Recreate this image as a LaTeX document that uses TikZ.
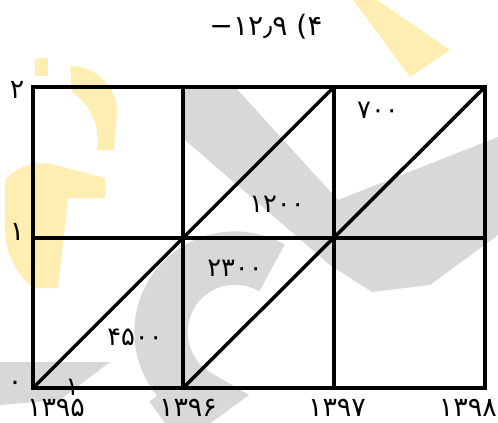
\documentclass[tikz,border=0pt]{standalone}
\usepackage{fontspec}
\newfontfamily\fa{DejaVu Sans}
\usetikzlibrary{positioning}

\definecolor{wmgray}{RGB}{216,216,216}
\definecolor{wmyellow}{RGB}{255,238,178}

\begin{document}
\begin{tikzpicture}[
            x=0.03cm, y=-0.03cm,
            frame/.style={line width=3pt},
            midline/.style={line width=3.6pt},
            diag/.style={line width=3pt},
            lab/.style={font=\fa\fontsize{23}{25}\selectfont,inner sep=0pt},
            cell/.style={font=\fa\fontsize{22}{24}\selectfont,inner sep=0pt},
            wmg/.style={fill=wmgray,draw=none},
            wmy/.style={fill=wmyellow,draw=none}
        ]
        \useasboundingbox (0,0) rectangle (498,423);
        % watermark
        \fill[wmg] (185,87) -- (235,87) -- (338,200) -- (498,137) -- (498,235)
            -- (430,285) -- (372,292) -- (330,265) -- (185,140) -- cycle;
        \draw[wmgray,line width=1.6cm] (272,268) arc[start angle=300,end angle=118,radius=74]
            -- (165,423);
        \fill[wmg] (0,362) -- (110,362) -- (60,400) -- (0,405) -- cycle;
        \fill[wmy] (353,0) -- (377,0) -- (450,50) -- (410,77) -- cycle;
        \fill[wmy] (35,58) rectangle (48,76);
        \fill[wmy] (70,66) to[bend left=45] (117,112) -- (114,150) -- (97,150) to[bend right=30] (72,92) -- cycle;
        \fill[wmy] (5,180) to[bend left=30] (55,165) -- (105,178) -- (105,198) -- (68,198)
            -- (58,288) -- (33,288) to[bend left=20] (5,235) -- cycle;
        % grid points
        \coordinate (a0) at (33,388);  \coordinate (b0) at (183,388);
        \coordinate (c0) at (334,388); \coordinate (d0) at (485,388);
        \coordinate (a1) at (33,238);  \coordinate (d1) at (485,238);
        \coordinate (a2) at (33,87);   \coordinate (b2) at (183,87);
        \coordinate (c2) at (334,87);  \coordinate (d2) at (485,87);
        % grid
        \draw[frame] (a0) rectangle (d2);
        \draw[frame] (b0) -- (b2);
        \draw[frame] (c0) -- (c2);
        \draw[midline] (a1) -- (d1);
        % diagonals
        \draw[diag] (a0) -- (c2);
        \draw[diag] (b0) -- (d2);
        % title
        \node[lab,font=\fa\fontsize{24}{26}\selectfont] (title) at (266,27) {−۱۲٫۹ (۴};
        % axis labels
        \node[lab] (y2) at (17,90) {۲};
        \node[lab] (y1) at (17,232) {۱};
        \node[lab] (y0) at (15,386) {۰};
        \node[lab] (x95) at (56,408) {۱۳۹۵};
        \node[lab] (x96) at (188,408) {۱۳۹۶};
        \node[lab] (x97) at (337,408) {۱۳۹۷};
        \node[lab,anchor=east] (x98) at (497,408) {۱۳۹۸};
        % cell values
        \node[cell] (v700) at (378,110) {۷۰۰};
        \node[cell] (v1200) at (277,204) {۱۲۰۰};
        \node[cell] (v2300) at (235,268) {۲۳۰۰};
        \node[cell] (v4500) at (135,337) {۴۵۰۰};
        \node[cell] (v100000) at (107,387) {۱۰۰۰۰۰};
\end{tikzpicture}
\end{document}
